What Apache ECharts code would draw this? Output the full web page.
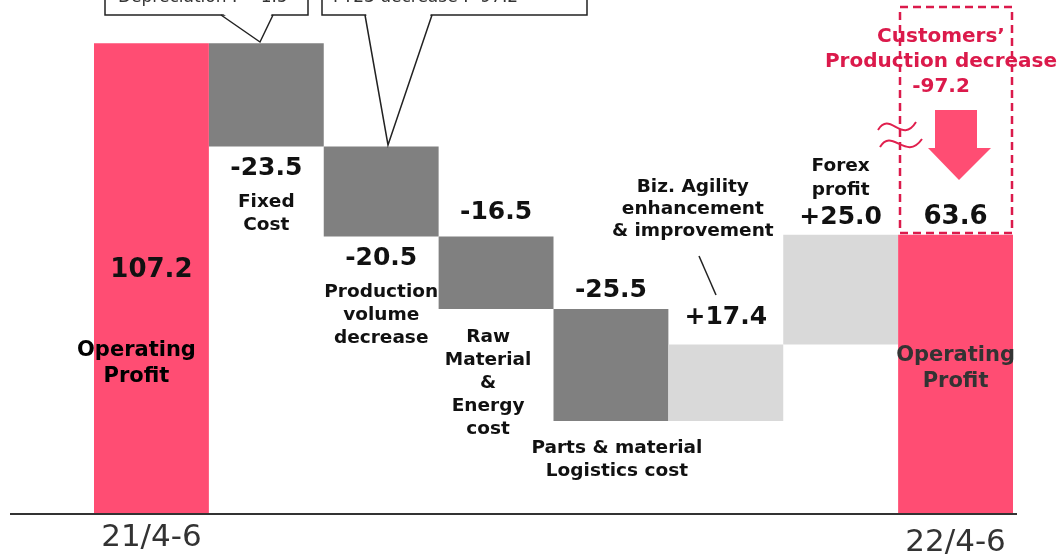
<!DOCTYPE html>
<html><head><meta charset="utf-8">
<script src="https://cdn.jsdelivr.net/npm/echarts@6/dist/echarts.min.js"></script>
<style>html,body{margin:0;padding:0;background:#fff}#c{width:1063px;height:555px}</style>
</head><body><div id="c"></div>
<script>
// ---- data ----
const categories = ['21/4-6','Fixed Cost','Production volume decrease','Raw Material & Energy cost','Parts & material Logistics cost','Biz. Agility enhancement & improvement','Forex profit','22/4-6'];
const axisLabels = ['21/4-6','','','','','','','22/4-6'];
const startValue = 107.2;
const deltas = [-23.5, -20.5, -16.5, -25.5, 17.4, 25.0];
const endValue = 63.6;
const deltaText = ['-23.5','-20.5','-16.5','-25.5','+17.4','+25.0'];
const startText = '107.2';
const endText = '63.6';
const nameLines = [
  ['Operating','Profit'],
  ['Fixed','Cost'],
  ['Production','volume','decrease'],
  ['Raw','Material','&','Energy','cost'],
  ['Parts & material','Logistics cost'],
  ['Biz. Agility','enhancement','& improvement'],
  ['Forex','profit'],
  ['Operating','Profit']
];
const calloutTexts = ['Depreciation :\u3000-1.5', 'FY23 decrease : -97.2'];
const customerLines = ['Customers\u2019', 'Production decrease', '-97.2'];

// ---- styles ----
const F = 'DejaVu Sans';
const PINK = '#FF4D73', DARK = '#808080', LIGHT = '#D9D9D9', RED = '#DB1A4B';
const tok = (s, arr) => arr.map(x => `{${s}|${x}}`).join('\n');

// waterfall helper arrays
const base = ['-'], change = ['-'], total = [startValue];
let run = startValue;
deltas.forEach(d => {
  const nr = run + d;
  base.push(Math.min(run, nr));
  change.push(Math.abs(d));
  total.push('-');
  run = nr;
});
base.push('-'); change.push('-'); total.push(endValue);

// label layouts per category (style, not data)
const changeLabel = {
  1: {position:'bottom', distance:0, formatter:`{vb|${deltaText[0]}}\n` + tok('n', nameLines[1])},
  2: {position:'bottom', distance:0, formatter:`{vb|${deltaText[1]}}\n` + tok('n', nameLines[2])},
  3: {position:'top', distance:9, formatter:`{v|${deltaText[2]}}`},
  4: {position:'top', distance:3.5, formatter:`{v|${deltaText[3]}}`},
  5: {position:'top', distance:11.6, formatter: tok('nl', nameLines[5]) + `\n{s61| }\n{v|${deltaText[4]}}`},
  6: {position:'top', distance:2.6, formatter: tok('nf', nameLines[6]) + `\n{v|${deltaText[5]}}`}
};
const baseLabel = {
  3: {position:'insideTop', distance:17, offset:[-8,0], formatter: tok('n', nameLines[3])},
  4: {position:'insideTop', distance:15.5, offset:[6,0], formatter: tok('n', nameLines[4])}
};
const totalLabel = {
  0: {position:'insideTop', distance:211, formatter:`{vt|${startText}}\n{s51| }\n` + tok('op', nameLines[0])},
  7: {position:'insideTop', distance:-33.6, formatter:`{vt|${endText}}\n{s109| }\n` + tok('op2', nameLines[7])}
};

const rich = {
  v:{fontFamily:F, fontWeight:'bold', fontSize:25, color:'#111', lineHeight:30},
  vb:{fontFamily:F, fontWeight:'bold', fontSize:25, color:'#111', lineHeight:44},
  vt:{fontFamily:F, fontWeight:'bold', fontSize:26, color:'#111', lineHeight:32},
  n:{fontFamily:F, fontWeight:'bold', fontSize:18.5, color:'#111', lineHeight:23},
  nl:{fontFamily:F, fontWeight:'bold', fontSize:18.5, color:'#111', lineHeight:22, padding:[0,66,0,0]},
  nf:{fontFamily:F, fontWeight:'bold', fontSize:18.5, color:'#111', lineHeight:24},
  op:{fontFamily:F, fontWeight:'bold', fontSize:21, color:'#000', lineHeight:26, padding:[0,30,0,0]},
  op2:{fontFamily:F, fontWeight:'bold', fontSize:21, color:'#333', lineHeight:26},
  s51:{fontSize:10, lineHeight:51},
  s61:{fontSize:10, lineHeight:61},
  s109:{fontSize:10, lineHeight:109}
};

const mk = (arr, labels, colorFn) => arr.map((v, i) => {
  if (v === '-') return '-';
  const item = {value: v};
  if (colorFn) item.itemStyle = {color: colorFn(i)};
  if (labels[i]) item.label = Object.assign({show:true}, labels[i]);
  return item;
});

const chart = echarts.init(document.getElementById('c'));
chart.setOption({
  animation: false,
  backgroundColor: '#fff',
  grid: {left: 94, right: 50, top: 31, bottom: 41, containLabel: false, outerBoundsMode: 'none'},
  xAxis: {
    type: 'category',
    data: categories,
    axisLine: {show: false},
    axisTick: {show: false},
    axisLabel: {
      interval: 0, margin: 8,
      formatter: (v, i) => axisLabels[i] ? (i === 0 ? `{a|${axisLabels[i]}}` : `{b|${axisLabels[i]}}`) : '',
      rich: {
        a: {fontFamily: F, fontSize: 31, color: '#333'},
        b: {fontFamily: F, fontSize: 31, color: '#333', padding: [5,0,0,0]}
      }
    }
  },
  yAxis: {type: 'value', min: 0, max: 110, show: false},
  series: [
    {type:'bar', name:'base', stack:'w', silent:true, barCategoryGap:'0%',
     itemStyle:{color:'rgba(0,0,0,0)'}, label:{show:false, rich},
     data: mk(base, baseLabel)},
    {type:'bar', name:'change', stack:'w', barCategoryGap:'0%',
     label:{show:false, rich},
     data: mk(change, changeLabel, i => deltas[i-1] < 0 ? DARK : LIGHT)},
    {type:'bar', name:'total', stack:'w', barCategoryGap:'0%',
     itemStyle:{color: PINK}, label:{show:false, rich},
     data: mk(total, totalLabel)}
  ],
  graphic: [
    {type:'line', shape:{x1:10, y1:514, x2:1017, y2:514}, style:{stroke:'#333', lineWidth:2}, z:100},
    // callout 1
    {type:'rect', shape:{x:105, y:-20, width:203, height:35}, style:{fill:'#fff', stroke:'#222', lineWidth:1.5}, z:100},
    {type:'polygon', shape:{points:[[222,13],[260,42],[272,13]]}, style:{fill:'#fff'}, z:101},
    {type:'polyline', shape:{points:[[221,15],[260,42],[273,15]]}, style:{stroke:'#222', lineWidth:1.5, fill:null}, z:102},
    {type:'text', x:118, y:-2, style:{text:calloutTexts[0], font:`17px "${F}"`, fill:'#333', verticalAlign:'middle'}, z:103},
    // callout 2
    {type:'rect', shape:{x:322, y:-20, width:265, height:35}, style:{fill:'#fff', stroke:'#222', lineWidth:1.5}, z:100},
    {type:'polygon', shape:{points:[[366,13],[388,145],[431,13]]}, style:{fill:'#fff'}, z:101},
    {type:'polyline', shape:{points:[[365,15],[388,145],[432,15]]}, style:{stroke:'#222', lineWidth:1.5, fill:null}, z:102},
    {type:'text', x:333, y:-2, style:{text:calloutTexts[1], font:`17px "${F}"`, fill:'#333', verticalAlign:'middle'}, z:103},
    // leader line for Biz. Agility
    {type:'line', shape:{x1:699, y1:256, x2:716, y2:295}, style:{stroke:'#222', lineWidth:1.5}, z:100},
    // dashed box
    {type:'rect', shape:{x:900, y:7, width:112, height:226}, style:{fill:null, stroke:RED, lineWidth:2.5, lineDash:[8,5]}, z:100},
    // red text
    {type:'text', x:941, y:62, style:{text:customerLines.join('\n'), font:`bold 20px "${F}"`, fill:RED, align:'center', verticalAlign:'middle', lineHeight:25}, z:103},
    // arrow
    {type:'polygon', shape:{points:[[935,110],[977,110],[977,148],[991,148],[959,180],[928,148],[935,148]]}, style:{fill:PINK}, z:100},
    // wave
    {type:'bezierCurve', shape:{x1:878, y1:130, cpx1:890, cpy1:110, cpx2:902, cpy2:145, x2:916, y2:122}, style:{stroke:'#E0204E', lineWidth:2, fill:null}, z:100},
    {type:'bezierCurve', shape:{x1:880, y1:147, cpx1:892, cpy1:127, cpx2:906, cpy2:162, x2:922, y2:139}, style:{stroke:'#E0204E', lineWidth:2, fill:null}, z:100}
  ]
});
</script>
</body></html>
